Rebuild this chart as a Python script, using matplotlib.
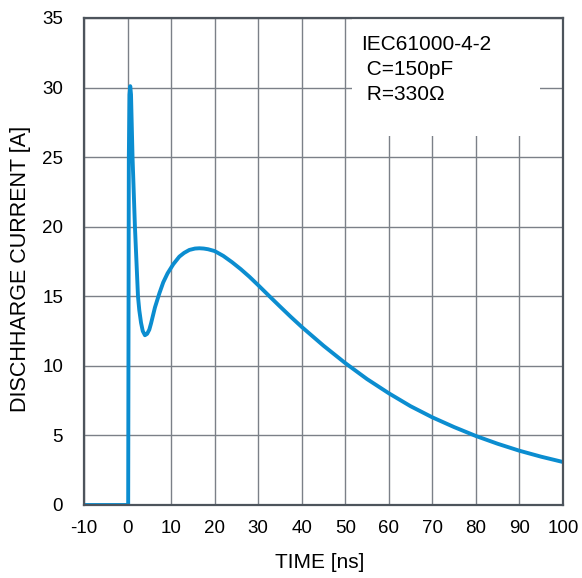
import matplotlib
matplotlib.use("Agg")
import matplotlib.pyplot as plt
import matplotlib.patches as mpatches

plt.rcParams['font.family'] = ['Liberation Sans', 'DejaVu Sans']
plt.rcParams['axes.unicode_minus'] = False

# discharge current waveform (ns, A)
time_ns = [-10, 0.0, 0.15, 0.3, 0.45, 0.62, 0.8, 1.15, 1.7, 2.4, 2.7, 3.1,
           3.5, 4.0, 4.5, 5.0, 5.4, 6.3, 7.3, 8.2, 9.2, 10.5, 11.9, 13.0,
           14.2, 15.5, 16.5, 17.5, 18.5, 20, 22, 24, 26, 28, 30, 32.5, 35,
           37.5, 40, 45, 50, 55, 60, 65, 70, 75, 80, 85, 90, 95, 100]
current_a = [0, 0, 0, 25.0, 29.5, 30.1, 29.5, 25.0, 20.0, 15.0, 14.0, 13.1,
             12.5, 12.2, 12.3, 12.6, 13.05, 14.2, 15.2, 16.0, 16.65, 17.3,
             17.85, 18.12, 18.33, 18.43, 18.45, 18.43, 18.38, 18.25, 17.9,
             17.45, 16.95, 16.4, 15.8, 15.03, 14.27, 13.52, 12.8, 11.45, 10.2,
             9.05, 8.03, 7.1, 6.3, 5.6, 4.96, 4.4, 3.9, 3.47, 3.09]

x_ticks = [-10, 0, 10, 20, 30, 40, 50, 60, 70, 80, 90, 100]
y_ticks = [0, 5, 10, 15, 20, 25, 30, 35]
note_lines = ["IEC61000-4-2", " C=150pF", " R=330\u03a9"]

fig = plt.figure(figsize=(5.82, 5.78), dpi=100)
ax = fig.add_axes([0.1443, 0.1263, 0.823, 0.8426])

ax.set_xlim(-10, 100)
ax.set_ylim(0, 35)
ax.set_xticks(x_ticks)
ax.set_yticks(y_ticks)
ax.set_axisbelow(True)
ax.grid(True, color='#7b8088', linewidth=1.0)
ax.tick_params(axis='both', length=0, labelsize=13.5)
ax.tick_params(axis='y', pad=15)
ax.tick_params(axis='x', pad=11)
for sp in ax.spines.values():
    sp.set_color('#4d545c')
    sp.set_linewidth(1.6)

# white box behind the note
ax.add_patch(mpatches.Rectangle((51.5, 26.5), 43.2, 8.5, facecolor='white',
                                edgecolor='none', zorder=1))
ax.text(53.7, 33.75, "\n".join(note_lines), fontsize=15, va='top', ha='left',
        linespacing=1.4, zorder=3)

ax.plot(time_ns, current_a, color='#0b8dd0', linewidth=2.8, zorder=2,
        solid_joinstyle='round')

ax.set_xlabel('TIME [ns]', fontsize=15)
ax.set_ylabel('DISCHHARGE CURRENT [A]', fontsize=15.5)
ax.xaxis.set_label_coords(0.493, -0.098)
ax.yaxis.set_label_coords(-0.111, 0.485)

plt.savefig('out.png', dpi=100)
